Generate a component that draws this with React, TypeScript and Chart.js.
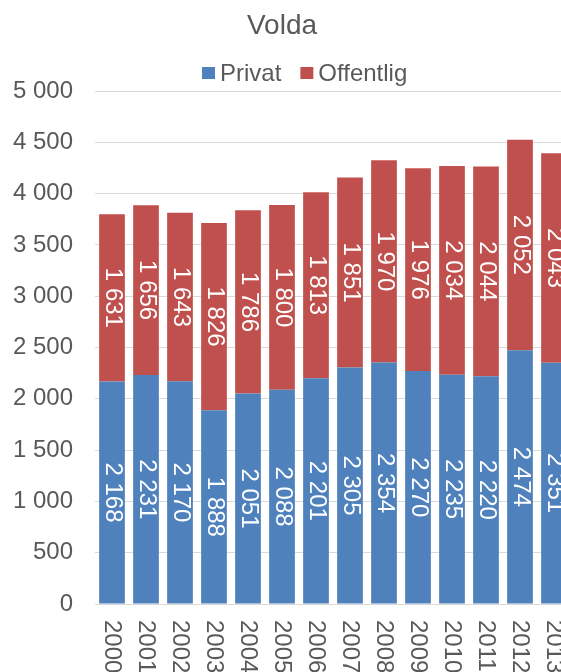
import React, { useEffect, useRef } from "react";
import { Chart, registerables } from "chart.js";

Chart.register(...registerables);

const chartTitle = "Volda";
const years = ["2000", "2001", "2002", "2003", "2004", "2005", "2006", "2007", "2008", "2009", "2010", "2011", "2012", "2013"];
const seriesNames = ["Privat", "Offentlig"];
const privat = [2168, 2231, 2170, 1888, 2051, 2088, 2201, 2305, 2354, 2270, 2235, 2220, 2474, 2351];
const offentlig = [1631, 1656, 1643, 1826, 1786, 1800, 1813, 1851, 1970, 1976, 2034, 2044, 2052, 2043];
const seriesColors = ["#4F81BD", "#C0504D"];
const yMin = 0;
const yMax = 5000;
const yStep = 500;

const FONT = '"Liberation Sans", Arial, sans-serif';
const TEXT = "#595959";

const fmt = (n: number) => String(n).replace(/\B(?=(\d{3})+(?!\d))/g, " ");

const decorPlugin = {
  id: "decor",
  afterDatasetsDraw(chart: any) {
    const ctx = chart.ctx;
    ctx.save();
    ctx.fillStyle = "#FFFFFF";
    ctx.font = `24px ${FONT}`;
    ctx.textAlign = "center";
    ctx.textBaseline = "middle";
    chart.data.datasets.forEach((ds: any, i: number) => {
      const meta = chart.getDatasetMeta(i);
      meta.data.forEach((bar: any, j: number) => {
        const { x, y, base } = bar.getProps(["x", "y", "base"], true);
        const cy = (y + base) / 2;
        ctx.save();
        ctx.translate(x + 1, cy);
        ctx.rotate(Math.PI / 2);
        ctx.fillText(fmt(ds.data[j]), 0, 0);
        ctx.restore();
      });
    });
    ctx.restore();
  },
  afterDraw(chart: any) {
    const ctx = chart.ctx;
    const xs = chart.scales.x;
    ctx.save();
    // x tick labels, rotated clockwise
    ctx.fillStyle = TEXT;
    ctx.font = `24px ${FONT}`;
    ctx.textAlign = "left";
    ctx.textBaseline = "middle";
    chart.data.labels.forEach((lab: string, i: number) => {
      const x = xs.getPixelForTick(i);
      ctx.save();
      ctx.translate(x, chart.chartArea.bottom + 16);
      ctx.rotate(Math.PI / 2);
      ctx.fillText(lab, 0, 0);
      ctx.restore();
    });
    // title
    ctx.font = `28px ${FONT}`;
    ctx.textAlign = "center";
    ctx.fillText(chartTitle, 282, 26);
    // legend
    ctx.font = `24px ${FONT}`;
    ctx.textAlign = "left";
    let lx = 202;
    const ly = 73;
    chart.data.datasets.forEach((ds: any) => {
      ctx.fillStyle = ds.backgroundColor;
      ctx.fillRect(lx, ly - 6, 13, 12);
      ctx.fillStyle = TEXT;
      ctx.fillText(ds.label, lx + 18, ly + 1);
      lx += 18 + ctx.measureText(ds.label).width + 19;
    });
    ctx.restore();
  },
};

export default function App() {
  const ref = useRef<HTMLCanvasElement | null>(null);
  useEffect(() => {
    if (!ref.current) return;
    const chart = new Chart(ref.current, {
      type: "bar",
      data: {
        labels: years,
        datasets: [
          { label: seriesNames[0], data: privat, backgroundColor: seriesColors[0], borderWidth: 0 },
          { label: seriesNames[1], data: offentlig, backgroundColor: seriesColors[1], borderWidth: 0 },
        ],
      },
      options: {
        animation: false,
        responsive: false,
        devicePixelRatio: 1,
        layout: { padding: { top: 91, left: 0, right: 0, bottom: 0 } },
        datasets: { bar: { barPercentage: 0.756, categoryPercentage: 1 } },
        plugins: {
          legend: { display: false },
          title: { display: false },
          tooltip: { enabled: false },
        },
        scales: {
          x: {
            stacked: true,
            grid: { display: false },
            border: { display: false },
            ticks: { display: false },
            afterFit: (s: any) => {
              s.height = 68;
            },
          },
          y: {
            stacked: true,
            min: yMin,
            max: yMax,
            grid: { color: "#D9D9D9", lineWidth: 1, drawTicks: false },
            border: { display: false },
            ticks: {
              stepSize: yStep,
              padding: 22,
              color: TEXT,
              font: { family: FONT, size: 24 },
              callback: (v: any) => fmt(Number(v)),
            },
            afterFit: (s: any) => {
              s.width = 95;
            },
          },
        },
      },
      plugins: [decorPlugin],
    });
    return () => chart.destroy();
  }, []);
  return (
    <div style={{ position: "fixed", left: 0, top: 0, width: 561, height: 672, overflow: "hidden", background: "#fff" }}>
      <canvas ref={ref} width={571} height={672} style={{ display: "block" }} />
    </div>
  );
}
